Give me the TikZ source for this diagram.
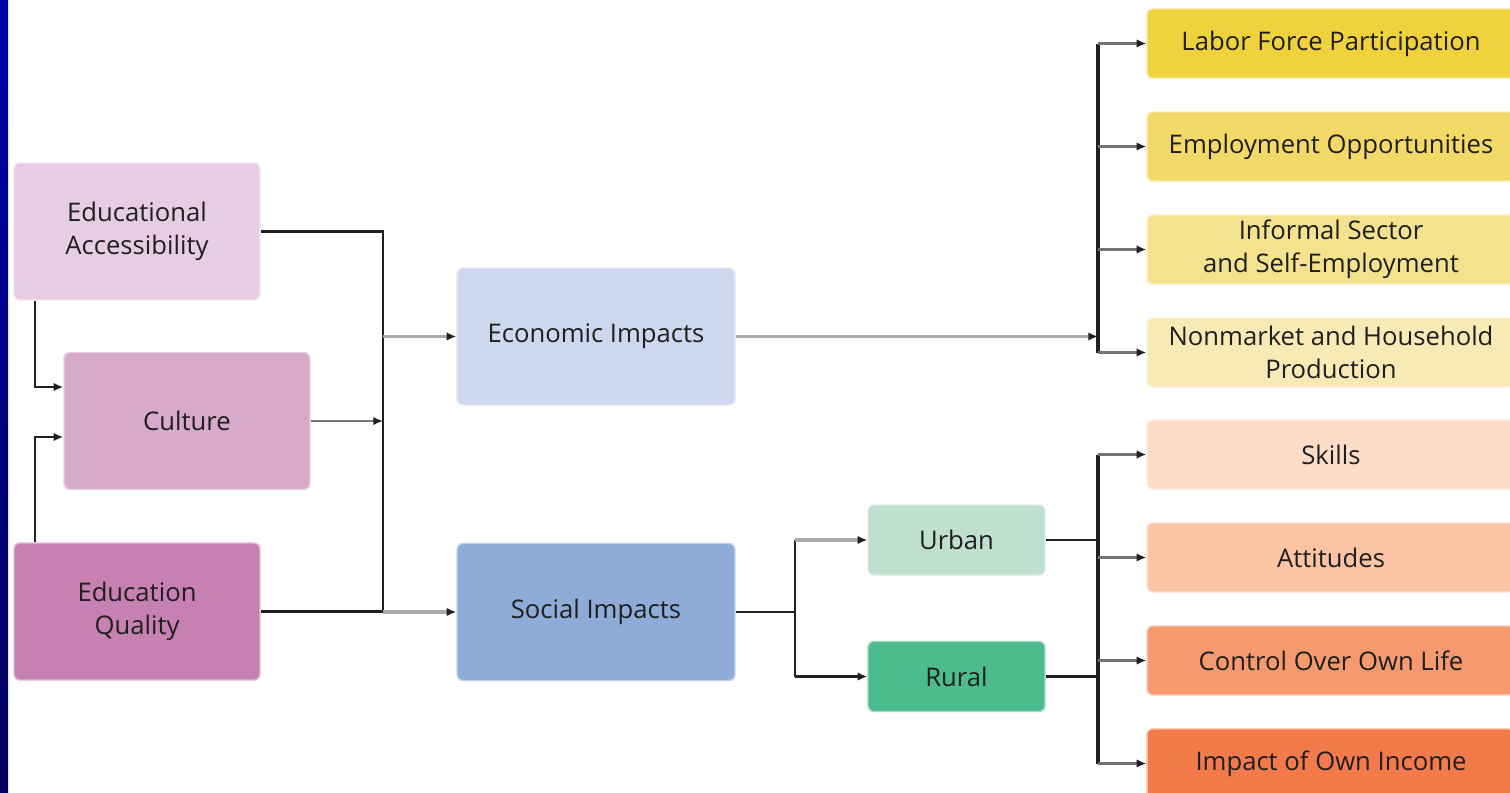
\documentclass[tikz,border=0pt]{standalone}
\usepackage{fontspec}
\setmainfont{Open Sans}
\usetikzlibrary{arrows.meta,calc}
\definecolor{cEA}{HTML}{E7CDE3}
\definecolor{cCU}{HTML}{D7A9CB}
\definecolor{cEQ}{HTML}{C680B2}
\definecolor{cEC}{HTML}{CDD7EE}
\definecolor{cSO}{HTML}{8FABD7}
\definecolor{cUR}{HTML}{BFE0D0}
\definecolor{cRU}{HTML}{4CBC8E}
\definecolor{cY1}{HTML}{F0D23C}
\definecolor{cY2}{HTML}{F3DA68}
\definecolor{cY3}{HTML}{F4E28E}
\definecolor{cY4}{HTML}{F8EAB5}
\definecolor{cO1}{HTML}{FDDCC8}
\definecolor{cO2}{HTML}{FAC4A5}
\definecolor{cO3}{HTML}{F49A6E}
\definecolor{cO4}{HTML}{F27A4B}
\definecolor{ink}{HTML}{231F20}
\definecolor{txt}{HTML}{1F1F1F}
\begin{document}
\begin{tikzpicture}[x=0.02cm,y=-0.02cm,
  box/.style={rounded corners=0.12cm, draw=#1!55!white, line width=0.8pt, fill=#1,
    text=txt, align=center, font=\fontsize{14.6}{18.8}\selectfont, inner sep=0pt},
  bigbox/.style={box=#1, minimum width=4.92cm, minimum height=2.74cm},
  midbox/.style={box=#1, minimum width=5.56cm, minimum height=2.74cm},
  smallbox/.style={box=#1, minimum width=3.54cm, minimum height=1.4cm},
  rbox/.style={box=#1, minimum width=7.36cm, minimum height=1.38cm},
  bline/.style={draw=ink, line width=1.6pt},
  tipk/.style={-{Latex[length=5.5pt,width=4.8pt,color=ink]}},
  barr/.style={bline, tipk},
  garr/.style={draw=black!33, line width=2pt, tipk},
  darr/.style={draw=black!55, line width=1.6pt, tipk},
]
\clip (0,0) rectangle (1510,792);
\fill[white] (0,0) rectangle (1510,792);
\shade[top color={rgb,255:red,0;green,0;blue,170}, bottom color={rgb,255:red,0;green,0;blue,90}] (0,0) rectangle (8,792);

% left column
\node[bigbox=cEA] (ea) at (137,231.5) {Educational\\Accessibility};
\node[bigbox=cCU] (cu) at (187,421) {Culture};
\node[bigbox=cEQ] (eq) at (137,611.5) {Education\\Quality};
% middle
\node[midbox=cEC] (ec) at (596,336.5) {Economic Impacts};
\node[midbox=cSO] (so) at (596,612) {Social Impacts};
\node[smallbox=cUR] (ur) at (956.5,540) {Urban};
\node[smallbox=cRU] (ru) at (956.5,676.5) {Rural};
% right yellow
\node[rbox=cY1] (y1) at (1331,43.5) {Labor Force Participation};
\node[rbox=cY2] (y2) at (1331,146.5) {Employment Opportunities};
\node[rbox=cY3] (y3) at (1331,249.5) {Informal Sector\\and Self-Employment};
\node[rbox=cY4] (y4) at (1331,352.5) {Nonmarket and Household\\Production};
% right orange
\node[rbox=cO1] (o1) at (1331,454.5) {Skills};
\node[rbox=cO2] (o2) at (1331,557.5) {Attitudes};
\node[rbox=cO3] (o3) at (1331,660.5) {Control Over Own Life};
\node[rbox=cO4] (o4) at (1331,763.5) {Impact of Own Income};

% bus coordinates
\coordinate (lx) at (35,0);
\coordinate (b1t) at (383,231.5);
\coordinate (b1b) at (383,611.5);
\coordinate (b2) at (1098,0);
\coordinate (b3) at (795,0);

% left feedback into culture
\draw[bline, tipk] (ea.south -| lx) |- ($(cu.west)+(0,-34)$);
\draw[bline, tipk] (eq.north -| lx) |- ($(cu.west)+(0,16)$);

% into first bus
\draw[bline] (ea.east) -- (b1t) -- (b1b) -- (eq.east);
\draw[darr] (cu.east) -- (cu.east -| b1t);
\draw[garr] (b1t |- ec.west) -- (ec.west);
\draw[garr] (b1b |- so.west) -- (so.west);

% economic branch
\draw[garr] (ec.east) -- (ec.east -| b2);
\draw[bline, line width=1.9pt] (y1.west -| b2) -- (y4.west -| b2);
\foreach \n in {y1,y2,y3,y4} \draw[darr] (\n.west -| b2) -- (\n.west);

% social branch
\draw[bline] (so.east) -- (so.east -| b3);
\draw[bline] (ur.west -| b3) -- (ru.west -| b3);
\draw[garr] (ur.west -| b3) -- (ur.west);
\draw[barr] (ru.west -| b3) -- (ru.west);
\draw[bline] (ur.east) -- (ur.east -| b2);
\draw[bline] (ru.east) -- (ru.east -| b2);
\draw[bline, line width=1.9pt] (o1.west -| b2) -- (o4.west -| b2);
\foreach \n in {o1,o2,o3,o4} \draw[darr] (\n.west -| b2) -- (\n.west);
\end{tikzpicture}
\end{document}
